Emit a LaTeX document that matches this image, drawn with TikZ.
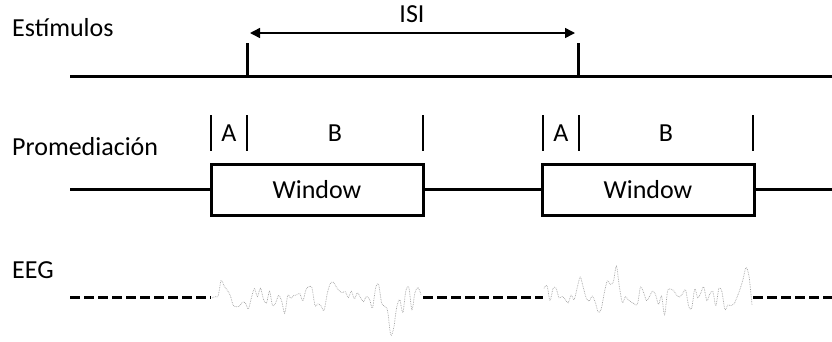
\documentclass[tikz,border=0pt]{standalone}
\usepackage{fontspec}
\setmainfont{Carlito}
\usetikzlibrary{arrows.meta,positioning}

\begin{document}
\begin{tikzpicture}[x=1pt,y=-1pt,line cap=butt,
 >={Triangle[length=10pt,width=10pt]},
 lbl/.style={font=\fontsize{26}{31}\selectfont,inner sep=0pt},
 axisline/.style={line width=3pt},
 stimtick/.style={line width=3pt},
 segtick/.style={line width=1.5pt},
 trackline/.style={line width=2.5pt},
 winbox/.style={draw,line width=3pt,minimum width=212pt,minimum height=51pt,
  inner sep=0pt,font=\fontsize{26}{31}\selectfont},
 eegdash/.style={line width=3pt,dash pattern=on 10pt off 4pt},
 eegtrace/.style={gray!75,line width=.7pt,densely dotted}]
\useasboundingbox (0,0) rectangle (832,341);

% row labels
\node[lbl,anchor=base west] (estim) at (12,36) {Estímulos};
\node[lbl,anchor=base west] (prom) at (12,155) {Promediación};
\node[lbl,anchor=base west] (eeg) at (12,278) {EEG};

% stimulus line with the two onsets
\coordinate (t0) at (70,76);
\coordinate (t1) at (832,76);
\coordinate (s1) at (247,76);
\coordinate (s1top) at (247,43);
\coordinate (s2) at (578,76);
\coordinate (s2top) at (578,43);
\draw[axisline] (t0) -- (t1);
\draw[stimtick] (s1) -- (s1top);
\draw[stimtick] (s2) -- (s2top);
\coordinate (isi1) at (250,33);
\coordinate (isi2) at (575,33);
\draw[<->,line width=1.5pt] (isi1) -- (isi2);
\node[lbl,anchor=base] (isi) at (412,22) {ISI};

% averaging windows
\node[winbox] (win1) at (317,189.5) {Window};
\node[winbox] (win2) at (648,189.5) {Window};
\coordinate (p0) at (70,189.5);
\coordinate (p1) at (832,189.5);
\draw[trackline] (p0) -- (win1.west);
\draw[trackline] (win1.east) -- (win2.west);
\draw[trackline] (win2.east) -- (p1);
\foreach \x in {211,247,423,543,579,753}
 \draw[segtick] (\x,115) -- (\x,151);
\node[lbl,anchor=base] (a1) at (229,141) {A};
\node[lbl,anchor=base] (b1) at (335,141) {B};
\node[lbl,anchor=base] (a2) at (561,141) {A};
\node[lbl,anchor=base] (b2) at (666,141) {B};

% EEG: dashed between windows, raw trace inside them
\coordinate (e0) at (70,297);
\coordinate (e1) at (211,297);
\coordinate (e2) at (423,297);
\coordinate (e3) at (543,297);
\coordinate (e4) at (753,297);
\coordinate (e5) at (832,297);
\draw[eegdash] (e0) -- (e1);
\draw[eegdash] (e2) -- (e3);
\draw[eegdash] (e4) -- (e5);
\pgfmathsetseed{23}
\draw[eegtrace] plot[smooth,domain=1:210,samples=70]
 ({211+\x},{297-10*rand-6*sin(9*\x)-4*sin(37*\x+20)
  +32*exp(-((\x-180)/4)^2)-18*exp(-((\x-122)/4)^2)});
\draw[eegtrace] plot[smooth,domain=1:209,samples=70]
 ({543+\x},{297-10*rand-6*sin(11*\x+50)-4*sin(41*\x)
  +16*exp(-((\x-57)/4)^2)-16*exp(-((\x-74)/4)^2)-16*exp(-((\x-204)/4)^2)});
\end{tikzpicture}
\end{document}
